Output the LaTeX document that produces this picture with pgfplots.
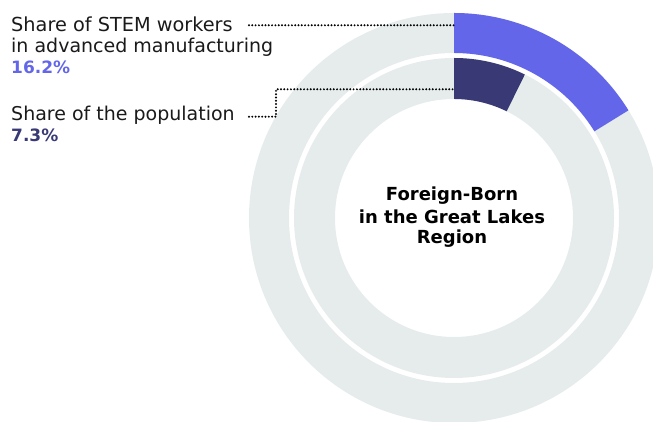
\documentclass[border=0pt]{standalone}
\usepackage{pgfplots}
\pgfplotsset{compat=1.18}
\usepackage{fontspec}
\setmainfont{DejaVu Sans}
\definecolor{outerblue}{HTML}{6366E9}
\definecolor{innerdark}{HTML}{393976}
\definecolor{ringgrey}{HTML}{E6ECEC}
\definecolor{txt}{HTML}{1A1A1A}
\begin{document}
\begin{tikzpicture}
\def\stemshare{16.2}
\def\popshare{7.3}
\pgfmathsetmacro{\aout}{90-3.6*\stemshare}
\pgfmathsetmacro{\ain}{90-3.6*\popshare}
\path[use as bounding box] (0pt,0pt) rectangle (653pt,422pt);
\begin{axis}[x=1pt,y=1pt,xmin=0,xmax=653,ymin=0,ymax=422,hide axis,
  anchor=south west,at={(0pt,0pt)},clip=true]
% rings
\fill[ringgrey, even odd rule] (axis cs:454,204) circle[radius=205pt] (axis cs:454,204) circle[radius=165pt];
\fill[ringgrey, even odd rule] (axis cs:454,204) circle[radius=160pt] (axis cs:454,204) circle[radius=119pt];
% segments
\fill[outerblue] ([shift={(90:205pt)}]axis cs:454,204) arc[start angle=90,end angle=\aout,radius=205pt]
  -- ([shift={(\aout:165pt)}]axis cs:454,204) arc[start angle=\aout,end angle=90,radius=165pt] -- cycle;
\fill[innerdark] ([shift={(90:160pt)}]axis cs:454,204) arc[start angle=90,end angle=\ain,radius=160pt]
  -- ([shift={(\ain:119pt)}]axis cs:454,204) arc[start angle=\ain,end angle=90,radius=119pt] -- cycle;
% leader lines
\draw[black, line width=2.2pt, line cap=round, dash pattern=on 0pt off 3.3pt]
  (axis cs:249,396.7) -- (axis cs:454,396.7);
\draw[black, line width=2.2pt, line cap=round, dash pattern=on 0pt off 3.3pt]
  (axis cs:249,305.3) -- (axis cs:276,305.3) -- (axis cs:276,332.7) -- (axis cs:454,332.7);
% labels
\node[anchor=base west, inner sep=0pt, text=txt, font=\fontsize{19.3}{23}\selectfont] at (axis cs:11,390) {Share of STEM workers};
\node[anchor=base west, inner sep=0pt, text=txt, font=\fontsize{19}{23}\selectfont] at (axis cs:11,369) {in advanced manufacturing};
\node[anchor=base west, inner sep=0pt, text=outerblue, font=\fontsize{17}{20}\selectfont\bfseries] at (axis cs:11,348) {16.2\%};
\node[anchor=base west, inner sep=0pt, text=txt, font=\fontsize{19}{23}\selectfont] at (axis cs:11,301.3) {Share of the population};
\node[anchor=base west, inner sep=0pt, text=innerdark, font=\fontsize{17}{20}\selectfont\bfseries] at (axis cs:11,280.3) {7.3\%};
% center title
\node[anchor=base, inner sep=0pt, text=black, font=\fontsize{18}{22}\selectfont\bfseries] at (axis cs:452,221) {Foreign-Born};
\node[anchor=base, inner sep=0pt, text=black, font=\fontsize{18}{22}\selectfont\bfseries] at (axis cs:452,198.7) {in the Great Lakes};
\node[anchor=base, inner sep=0pt, text=black, font=\fontsize{18}{22}\selectfont\bfseries] at (axis cs:452,178) {Region};
\end{axis}
\end{tikzpicture}
\end{document}
